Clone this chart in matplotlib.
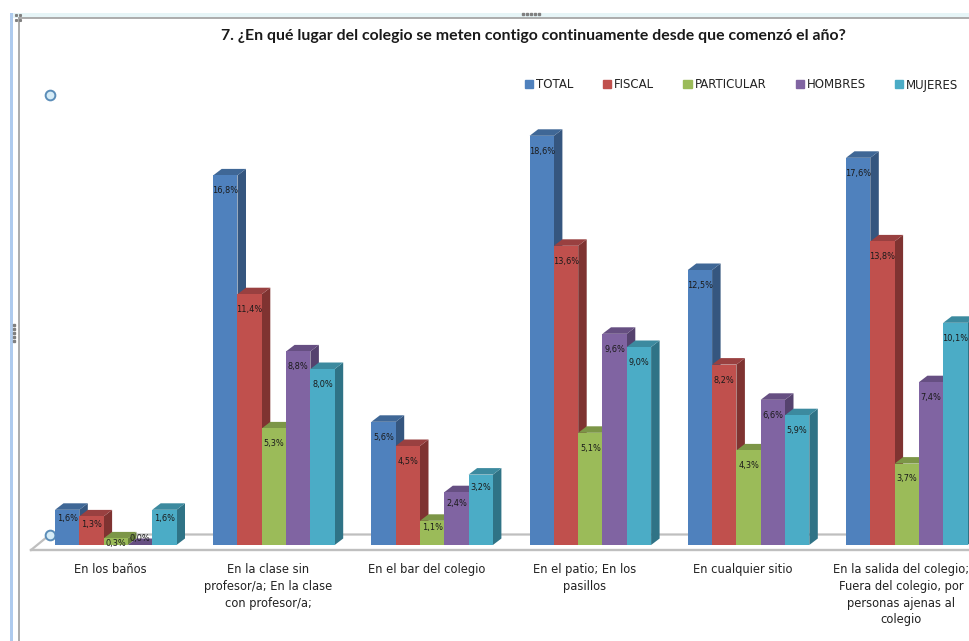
#! /usr/bin/python3
#-*-coding: utf-8-*-
# 3D style clustered columns, drawn by hand on a flat axes

import matplotlib
matplotlib.use("Agg")
import matplotlib.pyplot as plt
from matplotlib.patches import Patch, Polygon, Rectangle

W, H = 969, 641

title = "7. ¿En qué lugar del colegio se meten contigo continuamente desde que comenzó el año?"

categories = [
    "En los baños",
    "En la clase sin\nprofesor/a; En la clase\ncon profesor/a;",
    "En el bar del colegio",
    "En el patio; En los\npasillos",
    "En cualquier sitio",
    "En la salida del colegio;\nFuera del colegio, por\npersonas ajenas al\ncolegio",
]

series_names = ["TOTAL", "FISCAL", "PARTICULAR", "HOMBRES", "MUJERES"]

total = [1.6, 16.8, 5.6, 18.6, 12.5, 17.6]
fiscal = [1.3, 11.4, 4.5, 13.6, 8.2, 13.8]
particular = [0.3, 5.3, 1.1, 5.1, 4.3, 3.7]
hombres = [0.0, 8.8, 2.4, 9.6, 6.6, 7.4]
mujeres = [1.6, 8.0, 3.2, 9.0, 5.9, 10.1]

series = [total, fiscal, particular, hombres, mujeres]
colors = ["#4F81BD", "#C0504D", "#9BBB59", "#8064A2", "#4BACC6"]
sides = ["#35567F", "#7F3331", "#68803B", "#55426E", "#2F7386"]
tops = ["#3F6796", "#994040", "#7C9647", "#664F82", "#3C8A9F"]


def px_axes(left, top, right, bottom):
    return [left / W, 1 - bottom / H, (right - left) / W, (bottom - top) / H]


fig = plt.figure(figsize=(W / 100, H / 100), dpi=100, facecolor="white")

# window frame, floor and selection handles, in pixels
back = fig.add_axes([0, 0, 1, 1], zorder=0)
back.set_xlim(0, W)
back.set_ylim(H, 0)
back.axis("off")
back.add_patch(Rectangle((10, 13), 959, 5, color="#E6F5F7", lw=0))
back.add_patch(Rectangle((10, 13), 3.5, 628, color="#AFCBEE", lw=0))
back.plot([19, 969], [18, 18], color="#A6A6A6", lw=1.3)
back.plot([19, 19], [18, 641], color="#A6A6A6", lw=1.3)
back.plot([31, 969], [550, 550], color="#BFBFBF", lw=1.7)
back.plot([31, 50, 969], [550, 534.5, 534.5], color="#BFBFBF", lw=1.6)
for x, y in [(50, 95), (50, 535)]:
    back.plot(x, y, "o", ms=7, mfc="#D6ECF7", mec="#5B8DB8", mew=1.4)
for x in [523, 527, 531, 535, 539]:
    back.plot(x, 14, "s", ms=1.5, color="#808080")
for y in [325, 329, 333, 337, 341]:
    back.plot(14, y, "s", ms=1.5, color="#808080")
for x, y in [(16, 15), (20, 15), (16, 20), (20, 20)]:
    back.plot(x, y, "s", ms=1.2, color="#808080")

# the group tick is at 110 px, every group 158.2 px further
group_px = 158.2
px_x = 1 / group_px
px_y = 1 / 22.0
ax = fig.add_axes(px_axes(0, 20, W, 545), zorder=1)
ax.set_xlim(-110 * px_x, (W - 110) * px_x)
ax.set_ylim(0, 525 * px_y)
ax.patch.set_alpha(0)
for s in ax.spines.values():
    s.set_visible(False)
ax.set_yticks([])
ax.set_xticks(range(len(categories)))
ax.set_xticklabels(categories, fontsize=8.3, color="#222222", linespacing=1.38, va="top")
ax.tick_params(axis="x", length=0, pad=13)

bar_w = 24.3 * px_x
first = -55 * px_x
depth_x = 8.5 * px_x
depth_y = 6.5 * px_y

# left to right so that each column hides the side of the previous one
z = 2
for g in range(len(categories)):
    for s in range(len(series)):
        v = series[s][g]
        x0 = g + first + s * bar_w
        x1 = x0 + bar_w
        ax.add_patch(Polygon([(x1, 0), (x1 + depth_x, depth_y), (x1 + depth_x, v + depth_y), (x1, v)],
                             color=sides[s], lw=0, zorder=z))
        ax.add_patch(Polygon([(x0, v), (x0 + depth_x, v + depth_y), (x1 + depth_x, v + depth_y), (x1, v)],
                             color=tops[s], lw=0, zorder=z))
        ax.bar(x0, v, bar_w, align="edge", color=colors[s], lw=0, zorder=z)
        z += 1

# data labels stay above every column, short columns get them closer to the top
for g in range(len(categories)):
    for s in range(len(series)):
        v = series[s][g]
        x = g + first + (s + 0.5) * bar_w
        if v == 0:
            off = 4.5
        else:
            off = -min(4 + 2.9 * v, 15.5) * 0.72
        label = ("%.1f%%" % v).replace(".", ",")
        ax.annotate(label, (x, v), xytext=(0, off), textcoords="offset points",
                    ha="center", va="center", fontsize=5.9, color="#1A1A1A", zorder=200)

fig.text(533 / W, 1 - 36 / H, title, family="Lato", weight="bold", fontsize=11.4,
         color="#1A1A1A", ha="center", va="center")

handles = [Patch(color=c, label=n) for c, n in zip(colors, series_names)]
fig.legend(handles=handles, loc="center left", bbox_to_anchor=(525 / W, 1 - 85 / H), ncols=5,
           frameon=False, fontsize=8.5, labelcolor="#222222", handlelength=0.68, handleheight=0.68,
           handletextpad=0.25, columnspacing=2.5, borderpad=0, borderaxespad=0)

fig.savefig("out.png", dpi=100)
